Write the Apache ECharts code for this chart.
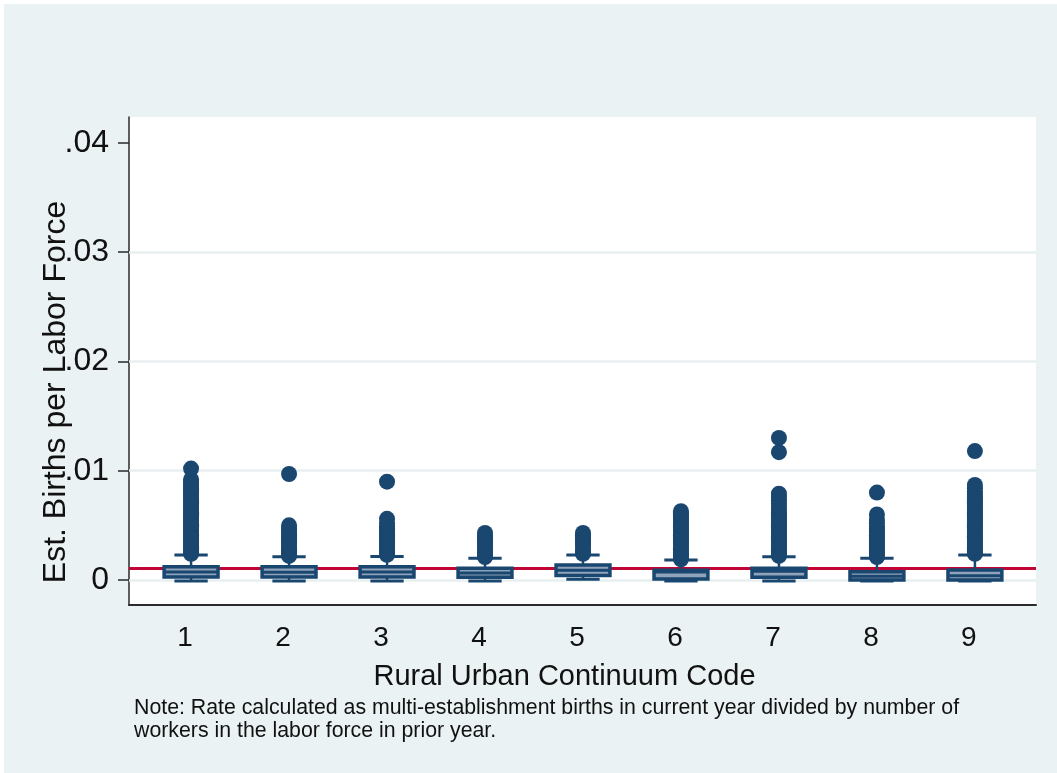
<!DOCTYPE html>
<html>
<head>
<meta charset="utf-8">
<title>Est. Births per Labor Force by Rural Urban Continuum Code</title>
<script src="https://cdn.jsdelivr.net/npm/echarts@6/dist/echarts.min.js"></script>
<style>
  html, body { margin: 0; padding: 0; background: #eaf2f3; }
  #chart { width: 1057px; height: 773px; }
</style>
</head>
<body>
<div id="chart"></div>
<script>
// Rural Urban Continuum Codes on the horizontal axis
const categories = [1, 2, 3, 4, 5, 6, 7, 8, 9];

// Box summaries per code: lower whisker, Q1, median, Q3, upper whisker
const whiskerLow  = [0.0000, 0.0000, 0.0000, 0.0000, 0.00016, 0.0000, 0.0000, 0.0000, 0.0000];
const quartile1   = [0.00027, 0.00027, 0.00027, 0.00025, 0.00040, 0.00010, 0.00025, 0.0000, 0.0000];
const medians     = [0.00073, 0.00071, 0.00072, 0.00064, 0.00090, 0.00072, 0.00080, 0.00034, 0.00039];
const quartile3   = [0.00120, 0.00120, 0.00120, 0.00107, 0.00137, 0.00089, 0.00107, 0.00076, 0.00092];
const whiskerHigh = [0.00229, 0.00213, 0.00215, 0.00199, 0.00229, 0.00183, 0.00213, 0.00199, 0.00229];

// Outside values per code
const outliers1 = [0.0024, 0.0025, 0.0027, 0.0029, 0.0030, 0.0032, 0.0034, 0.0035, 0.0037, 0.0039,
                   0.0041, 0.0043, 0.0044, 0.0046, 0.0048, 0.0050, 0.0051, 0.0053, 0.0055, 0.0057,
                   0.0059, 0.0061, 0.0062, 0.0064, 0.0066, 0.0068, 0.0070, 0.0072, 0.0074, 0.0076,
                   0.0078, 0.0080, 0.0082, 0.0084, 0.0086, 0.0088, 0.0090, 0.0092, 0.0102];
const outliers2 = [0.0022, 0.0024, 0.0026, 0.0027, 0.0029, 0.0031, 0.0033, 0.0035, 0.0037, 0.0039,
                   0.0041, 0.0043, 0.0045, 0.0047, 0.0050, 0.0097];
const outliers3 = [0.0023, 0.0025, 0.0027, 0.0029, 0.0031, 0.0033, 0.0035, 0.0037, 0.0039, 0.0041,
                   0.0043, 0.0045, 0.0047, 0.0049, 0.0052, 0.0056, 0.0090];
const outliers4 = [0.0021, 0.0023, 0.0025, 0.0027, 0.0029, 0.0031, 0.0033, 0.0035, 0.0037, 0.0039,
                   0.0041, 0.0043];
const outliers5 = [0.0024, 0.0026, 0.0028, 0.0031, 0.0033, 0.0035, 0.0037, 0.0039, 0.0041, 0.0043];
const outliers6 = [0.0019, 0.0021, 0.0023, 0.0025, 0.0027, 0.0029, 0.0031, 0.0033, 0.0035, 0.0037,
                   0.0039, 0.0041, 0.0043, 0.0045, 0.0047, 0.0049, 0.0051, 0.0053, 0.0055, 0.0057,
                   0.0059, 0.0061, 0.0063];
const outliers7 = [0.0022, 0.0024, 0.0026, 0.0028, 0.0030, 0.0032, 0.0034, 0.0036, 0.0038, 0.0040,
                   0.0042, 0.0044, 0.0046, 0.0048, 0.0050, 0.0052, 0.0054, 0.0056, 0.0058, 0.0060,
                   0.0062, 0.0064, 0.0067, 0.0070, 0.0073, 0.0076, 0.0079, 0.0117, 0.0130];
const outliers8 = [0.0021, 0.0023, 0.0025, 0.0027, 0.0029, 0.0031, 0.0033, 0.0035, 0.0037, 0.0039,
                   0.0041, 0.0043, 0.0045, 0.0047, 0.0049, 0.0052, 0.0055, 0.0060, 0.0080];
const outliers9 = [0.0024, 0.0026, 0.0028, 0.0030, 0.0032, 0.0034, 0.0036, 0.0038, 0.0040, 0.0042,
                   0.0044, 0.0046, 0.0048, 0.0050, 0.0052, 0.0054, 0.0056, 0.0058, 0.0060, 0.0062,
                   0.0064, 0.0066, 0.0068, 0.0070, 0.0072, 0.0074, 0.0076, 0.0078, 0.0081, 0.0084,
                   0.0087, 0.0118];
const outlierGroups = [outliers1, outliers2, outliers3, outliers4, outliers5,
                       outliers6, outliers7, outliers8, outliers9];

// Reference line (overall rate) and y-axis ticks
const referenceRate = 0.00104;
const yTicks = [0, 0.01, 0.02, 0.03, 0.04];
const yGridLines = [0, 0.01, 0.02, 0.03];

const NAVY = '#1a476f';
const STRIPE = '#8fa3ba';
const FONT = "'Liberation Sans', Arial, Helvetica, sans-serif";

const boxData = categories.map((c, i) =>
  [c, whiskerLow[i], quartile1[i], medians[i], quartile3[i], whiskerHigh[i]]);

const outlierData = [];
categories.forEach((c, i) => {
  outlierGroups[i].forEach(v => outlierData.push([c, v]));
});

function fmtTick(v) {
  if (v === 0) return '0';
  return String(+v.toFixed(4)).replace(/^0\./, '.');
}

// Box widths in x-axis units
const BOX_WIDTH = 0.55;
const CAP_WIDTH = 0.34;

function renderBox(params, api) {
  const x = api.value(0);
  const pLo = api.coord([x, api.value(1)]);
  const pQ1 = api.coord([x, api.value(2)]);
  const pMed = api.coord([x, api.value(3)]);
  const pQ3 = api.coord([x, api.value(4)]);
  const pHi = api.coord([x, api.value(5)]);
  const bw = api.size([BOX_WIDTH, 0])[0];
  const cw = api.size([CAP_WIDTH, 0])[0];
  const cx = pMed[0];
  const stem = { stroke: NAVY, lineWidth: 2.5 };
  const cap = { stroke: NAVY, lineWidth: 3 };
  return {
    type: 'group',
    children: [
      { type: 'line', shape: { x1: cx, y1: pQ3[1], x2: cx, y2: pHi[1] }, style: stem },
      { type: 'line', shape: { x1: cx, y1: pQ1[1], x2: cx, y2: pLo[1] }, style: stem },
      { type: 'line', shape: { x1: cx - cw / 2, y1: pHi[1], x2: cx + cw / 2, y2: pHi[1] }, style: cap },
      { type: 'line', shape: { x1: cx - cw / 2, y1: pLo[1] + 1, x2: cx + cw / 2, y2: pLo[1] + 1 }, style: cap },
      {
        type: 'rect',
        shape: { x: cx - bw / 2, y: pQ3[1], width: bw, height: pQ1[1] - pQ3[1] },
        style: { fill: STRIPE, stroke: NAVY, lineWidth: 3.5 }
      },
      {
        type: 'line',
        shape: { x1: cx - bw / 2, y1: pMed[1], x2: cx + bw / 2, y2: pMed[1] },
        style: { stroke: NAVY, lineWidth: 3 }
      }
    ]
  };
}

const chart = echarts.init(document.getElementById('chart'), null, { renderer: 'canvas' });

chart.setOption({
  animation: false,
  backgroundColor: '#eaf2f3',
  textStyle: { fontFamily: FONT },
  title: {
    text: 'Note: Rate calculated as multi-establishment births in current year divided by number of\nworkers in the labor force in prior year.',
    left: 134,
    top: 697,
    padding: 0,
    textStyle: { fontFamily: FONT, fontSize: 21.3, fontWeight: 'normal', color: '#111', lineHeight: 23 }
  },
  graphic: [
    { type: 'rect', left: 0, top: 0, shape: { width: 1057, height: 4 }, style: { fill: '#ffffff' }, silent: true },
    { type: 'rect', left: 0, top: 0, shape: { width: 4, height: 773 }, style: { fill: '#ffffff' }, silent: true }
  ],
  grid: {
    left: 129,
    right: 21,
    top: 117,
    bottom: 168,
    show: true,
    backgroundColor: '#ffffff',
    borderWidth: 0
  },
  xAxis: {
    type: 'value',
    min: 0.3665,
    max: 9.6235,
    name: 'Rural Urban Continuum Code',
    nameLocation: 'middle',
    nameGap: 57,
    nameMoveOverlap: false,
    nameTextStyle: { fontFamily: FONT, fontSize: 29, color: '#111', padding: [0, 36, 0, 0] },
    axisLine: { show: true, onZero: false, lineStyle: { color: '#2a2a2a', width: 2 } },
    axisTick: { show: false },
    splitLine: { show: false },
    axisLabel: {
      customValues: categories,
      formatter: v => String(v),
      fontFamily: FONT,
      fontSize: 28,
      color: '#111',
      margin: 19,
      padding: [0, 12, 0, 0]
    }
  },
  yAxis: {
    type: 'value',
    min: -0.00229,
    max: 0.04238,
    name: 'Est. Births per Labor Force',
    nameLocation: 'middle',
    nameGap: 57,
    nameMoveOverlap: false,
    nameTextStyle: { fontFamily: FONT, fontSize: 32, color: '#111', padding: [0, 62, 0, 0] },
    axisLine: { show: true, onZero: false, lineStyle: { color: '#2a2a2a', width: 1.5 } },
    axisTick: { show: true, customValues: yTicks, length: 11, lineStyle: { color: '#2a2a2a', width: 1.5 } },
    splitLine: { show: false },
    axisLabel: {
      customValues: yTicks,
      formatter: fmtTick,
      fontFamily: FONT,
      fontSize: 32,
      color: '#111',
      margin: 20
    }
  },
  series: [
    {
      // horizontal grid lines and the overall rate line, kept beneath the boxes
      type: 'line',
      data: [],
      z: 1,
      silent: true,
      markLine: {
        z: 1,
        silent: true,
        precision: 6,
        symbol: ['none', 'none'],
        label: { show: false },
        animation: false,
        data: yGridLines.map(v => ({ yAxis: v, lineStyle: { color: '#e8eff1', width: 2.5, type: 'solid' } }))
          .concat([{ yAxis: referenceRate, lineStyle: { color: '#c10534', width: 3, type: 'solid' } }])
      }
    },
    {
      type: 'custom',
      z: 3,
      renderItem: renderBox,
      encode: { x: 0, y: [1, 2, 3, 4, 5] },
      data: boxData
    },
    {
      type: 'scatter',
      z: 4,
      symbol: 'circle',
      symbolSize: 16,
      itemStyle: { color: NAVY, opacity: 1 },
      data: outlierData
    }
  ]
});
</script>
</body>
</html>
